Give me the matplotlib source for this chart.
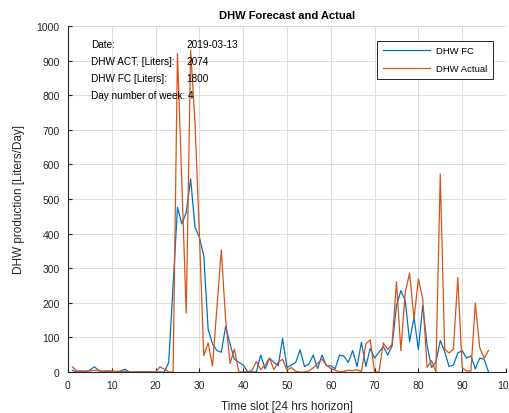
import matplotlib

matplotlib.use("Agg")

import matplotlib.pyplot as plt
import numpy as np

plt.rcParams["font.family"] = ["Liberation Sans", "DejaVu Sans"]

# 15-minute slots over one day
slots = np.arange(1, 97)

dhw_fc = [
    5, 0, 2, 0, 5, 15, 5, 0, 3, 0, 0, 3, 8, 0, 0, 0, 0, 0, 0, 0,
    0, 0, 28, 250, 476, 428, 461, 558, 418, 389, 336, 124, 81, 62, 57, 132,
    81, 37, 28, 20, 1, 0, 0, 49, 9, 40, 28, 18, 97, 13, 20, 28,
    64, 16, 23, 49, 10, 49, 18, 18, 9, 49, 46, 28, 62, 16, 86, 16,
    68, 40, 57, 74, 49, 76, 192, 235, 206, 88, 158, 65, 192, 76, 13, 28,
    91, 59, 16, 20, 55, 62, 40, 47, 9, 40, 37, 1,
]

dhw_actual = [
    15, 3, 3, 3, 3, 5, 3, 3, 3, 3, 2, 2, 2, 0, 0, 0, 0, 0, 0, 0,
    15, 8, 0, 0, 920, 545, 170, 930, 720, 400, 47, 84, 17, 185, 353, 150,
    25, 66, 0, 0, 0, 5, 30, 7, 20, 40, 7, 28, 37, 5, 13, 2,
    0, 0, 3, 12, 25, 37, 20, 10, 5, 0, 2, 5, 4, 7, 1, 81,
    93, 0, 0, 84, 65, 81, 261, 62, 230, 286, 153, 269, 211, 13, 33, 1,
    572, 66, 55, 66, 273, 13, 3, 3, 199, 71, 40, 62,
]

info_labels = ["Date:", "DHW ACT. [Liters]:", "DHW FC [Liters]:", "Day number of week: 4"]
info_values = ["2019-03-13", "2074", "1800", ""]

BLUE = "#0072BD"
ORANGE = "#D95319"
DARK = "#262626"

fig = plt.figure(figsize=(5.10, 4.14), dpi=100)
ax = fig.add_axes([0.1333, 0.099, 0.8588, 0.836])

ax.plot(slots, dhw_fc, color=BLUE, linewidth=0.9, label="DHW FC")
ax.plot(slots, dhw_actual, color=ORANGE, linewidth=0.9, label="DHW Actual")

ax.set_xlim(0, 100)
ax.set_ylim(0, 1000)
ax.set_xticks(np.arange(0, 101, 10))
ax.set_yticks(np.arange(0, 1001, 100))
ax.grid(True, color="#dcdcdc", linewidth=0.7)
ax.set_axisbelow(True)

for side in ("top", "right"):
    ax.spines[side].set_visible(False)
for side in ("left", "bottom"):
    ax.spines[side].set_color(DARK)
    ax.spines[side].set_linewidth(0.8)

ax.tick_params(direction="in", length=3, width=0.8, colors=DARK,
               labelsize=7.5, pad=6)

ax.set_title("DHW Forecast and Actual", fontsize=8, fontweight="bold",
             color="black", pad=6)
ax.set_xlabel("Time slot [24 hrs horizon]", fontsize=8.5, color=DARK, labelpad=7)
ax.set_ylabel("DHW production [Liters/Day]", fontsize=8.5, color=DARK, labelpad=8)

for i, (lab, val) in enumerate(zip(info_labels, info_values)):
    y = 948 - i * 49
    ax.text(5.25, y, lab, fontsize=7.2, color="black", va="center")
    if val:
        ax.text(27, y, val, fontsize=7.2, color="black", va="center")

leg = ax.legend(loc="upper right", bbox_to_anchor=(0.970, 0.957),
                fontsize=6.8, fancybox=False, framealpha=1,
                edgecolor=DARK, handlelength=5.0, handletextpad=0.6,
                borderpad=0.6, borderaxespad=0, labelspacing=0.9)
leg.get_frame().set_linewidth(0.7)

fig.savefig("out.png", dpi=100)
